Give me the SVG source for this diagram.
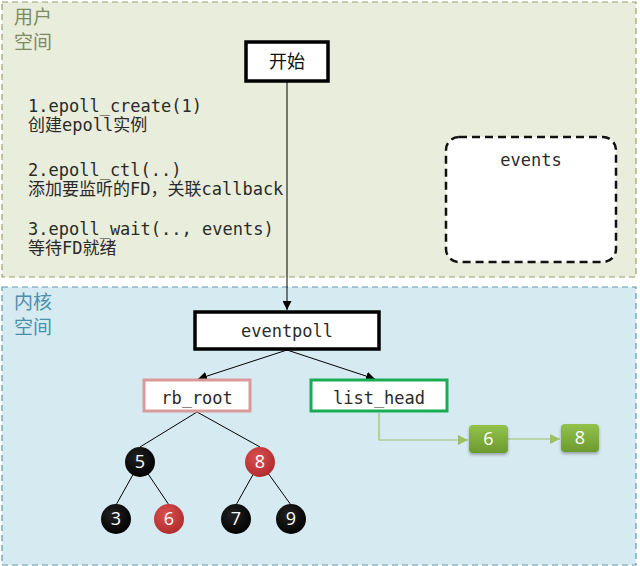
<svg xmlns="http://www.w3.org/2000/svg" width="640" height="566" viewBox="0 0 640 566">
<defs>
<marker id="ah" viewBox="0 0 10 10" refX="10" refY="5" markerWidth="9" markerHeight="9" markerUnits="userSpaceOnUse" orient="auto"><path d="M0,0 L10,5 L0,10 z" fill="#000"/></marker>
<marker id="ahg" viewBox="0 0 10 10" refX="10" refY="5" markerWidth="10" markerHeight="10" markerUnits="userSpaceOnUse" orient="auto"><path d="M0,0 L10,5 L0,10 z" fill="#9cc062"/></marker>
<radialGradient id="gRed" cx="0.4" cy="0.35" r="0.7"><stop offset="0" stop-color="#d95050"/><stop offset="1" stop-color="#b02a2c"/></radialGradient>
<radialGradient id="gBlk" cx="0.4" cy="0.35" r="0.7"><stop offset="0" stop-color="#222"/><stop offset="1" stop-color="#000"/></radialGradient>
<linearGradient id="gGrn" x1="0" y1="0" x2="0" y2="1"><stop offset="0" stop-color="#93c24c"/><stop offset="1" stop-color="#6c9a2e"/></linearGradient>
<filter id="sh" x="-20%" y="-20%" width="150%" height="160%"><feDropShadow dx="0" dy="2" stdDeviation="1.5" flood-color="#000" flood-opacity="0.3"/></filter>
</defs>
<style>
.mono{font-family:"DejaVu Sans Mono","Liberation Mono","Noto Sans CJK SC",monospace;font-size:17px;fill:#2a2a2a}
.cjk{font-family:"Noto Sans CJK SC","Noto Sans",sans-serif;font-size:18px}
.ttl{font-family:"Noto Sans CJK SC","Noto Sans",sans-serif;font-size:19px}
.num{font-family:"Open Sans","Noto Sans","DejaVu Sans",sans-serif;font-size:18px;fill:#fff;text-anchor:middle}
.conn{stroke:#000;stroke-width:1;fill:none}
</style>
<rect x="0" y="0" width="640" height="566" fill="#fff"/>
<g id="user-space">
<rect x="2" y="2" width="634" height="275" fill="#e9eddc" stroke="#98a06a" stroke-width="1.2" stroke-dasharray="6,4"/>
<text class="ttl" x="14" y="24" fill="#7f8a5c">用户</text>
<text class="ttl" x="14" y="49" fill="#7f8a5c">空间</text>
<text class="mono" x="28" y="112">1.epoll_create(1)</text>
<text class="mono" x="28" y="131">创建epoll实例</text>
<text class="mono" x="28" y="176">2.epoll_ctl(..)</text>
<text class="mono" x="28" y="195">添加要监听的FD，关联callback</text>
<text class="mono" x="28" y="235">3.epoll_wait(.., events)</text>
<text class="mono" x="28" y="254">等待FD就绪</text>
</g>
<g id="kernel-space">
<rect x="2" y="287" width="634" height="278" fill="#d6eaf2" stroke="#5f98aa" stroke-width="1.2" stroke-dasharray="6,4"/>
<text class="ttl" x="14" y="309" fill="#4a90a8">内核</text>
<text class="ttl" x="14" y="334" fill="#4a90a8">空间</text>
</g>
<g id="events">
<rect x="446" y="137" width="170" height="125" rx="13" fill="#fff" stroke="#111" stroke-width="2.5" stroke-dasharray="8,5"/>
<text class="mono" x="531" y="166" text-anchor="middle">events</text>
</g>
<g id="connectors">
<line class="conn" x1="287" y1="81" x2="287" y2="310" marker-end="url(#ah)"/>
<line class="conn" x1="287" y1="350" x2="198" y2="379" marker-end="url(#ah)"/>
<line class="conn" x1="287" y1="350" x2="375" y2="379" marker-end="url(#ah)"/>
<line class="conn" x1="197" y1="412" x2="140" y2="447"/>
<line class="conn" x1="197" y1="412" x2="260" y2="447"/>
<line class="conn" x1="140" y1="462" x2="116" y2="505"/>
<line class="conn" x1="140" y1="462" x2="169" y2="505"/>
<line class="conn" x1="260" y1="462" x2="236" y2="505"/>
<line class="conn" x1="260" y1="462" x2="291" y2="505"/>
<polyline points="379,413 379,440 468,440" fill="none" stroke="#9cc062" stroke-width="1.2" marker-end="url(#ahg)"/>
<line x1="508" y1="439" x2="560" y2="439" stroke="#9cc062" stroke-width="1.2" marker-end="url(#ahg)"/>
</g>
<g id="start">
<rect x="246" y="42" width="82" height="39" fill="#fff" stroke="#000" stroke-width="3.5"/>
<text class="cjk" x="287" y="68" text-anchor="middle" fill="#111">开始</text>
</g>
<g id="eventpoll">
<rect x="195" y="312" width="184" height="37" fill="#fff" stroke="#000" stroke-width="3.5"/>
<text class="mono" x="287" y="337" text-anchor="middle">eventpoll</text>
</g>
<g id="rb_root">
<rect x="144" y="380" width="106" height="31" fill="#fff" stroke="#d99a9a" stroke-width="3"/>
<text class="mono" x="197" y="404" text-anchor="middle">rb_root</text>
</g>
<g id="list_head">
<rect x="311" y="380" width="136" height="31" fill="#fff" stroke="#1aac55" stroke-width="3"/>
<text class="mono" x="379" y="404" text-anchor="middle">list_head</text>
</g>
<g id="n5"><circle cx="140" cy="462" r="15" fill="url(#gBlk)"/><text class="num" x="140" y="468">5</text></g>
<g id="n8"><circle cx="260" cy="462" r="15" fill="url(#gRed)"/><text class="num" x="260" y="468">8</text></g>
<g id="n3"><circle cx="116" cy="519" r="15" fill="url(#gBlk)"/><text class="num" x="116" y="525">3</text></g>
<g id="n6"><circle cx="169" cy="519" r="15" fill="url(#gRed)"/><text class="num" x="169" y="525">6</text></g>
<g id="n7"><circle cx="236" cy="519" r="15" fill="url(#gBlk)"/><text class="num" x="236" y="525">7</text></g>
<g id="n9"><circle cx="291" cy="519" r="15" fill="url(#gBlk)"/><text class="num" x="291" y="525">9</text></g>
<g id="l6"><rect x="469" y="425" width="39" height="28" rx="4" fill="url(#gGrn)" filter="url(#sh)"/><text class="num" x="488.5" y="445">6</text></g>
<g id="l8"><rect x="561" y="424" width="38" height="28" rx="4" fill="url(#gGrn)" filter="url(#sh)"/><text class="num" x="580" y="444">8</text></g>
</svg>
